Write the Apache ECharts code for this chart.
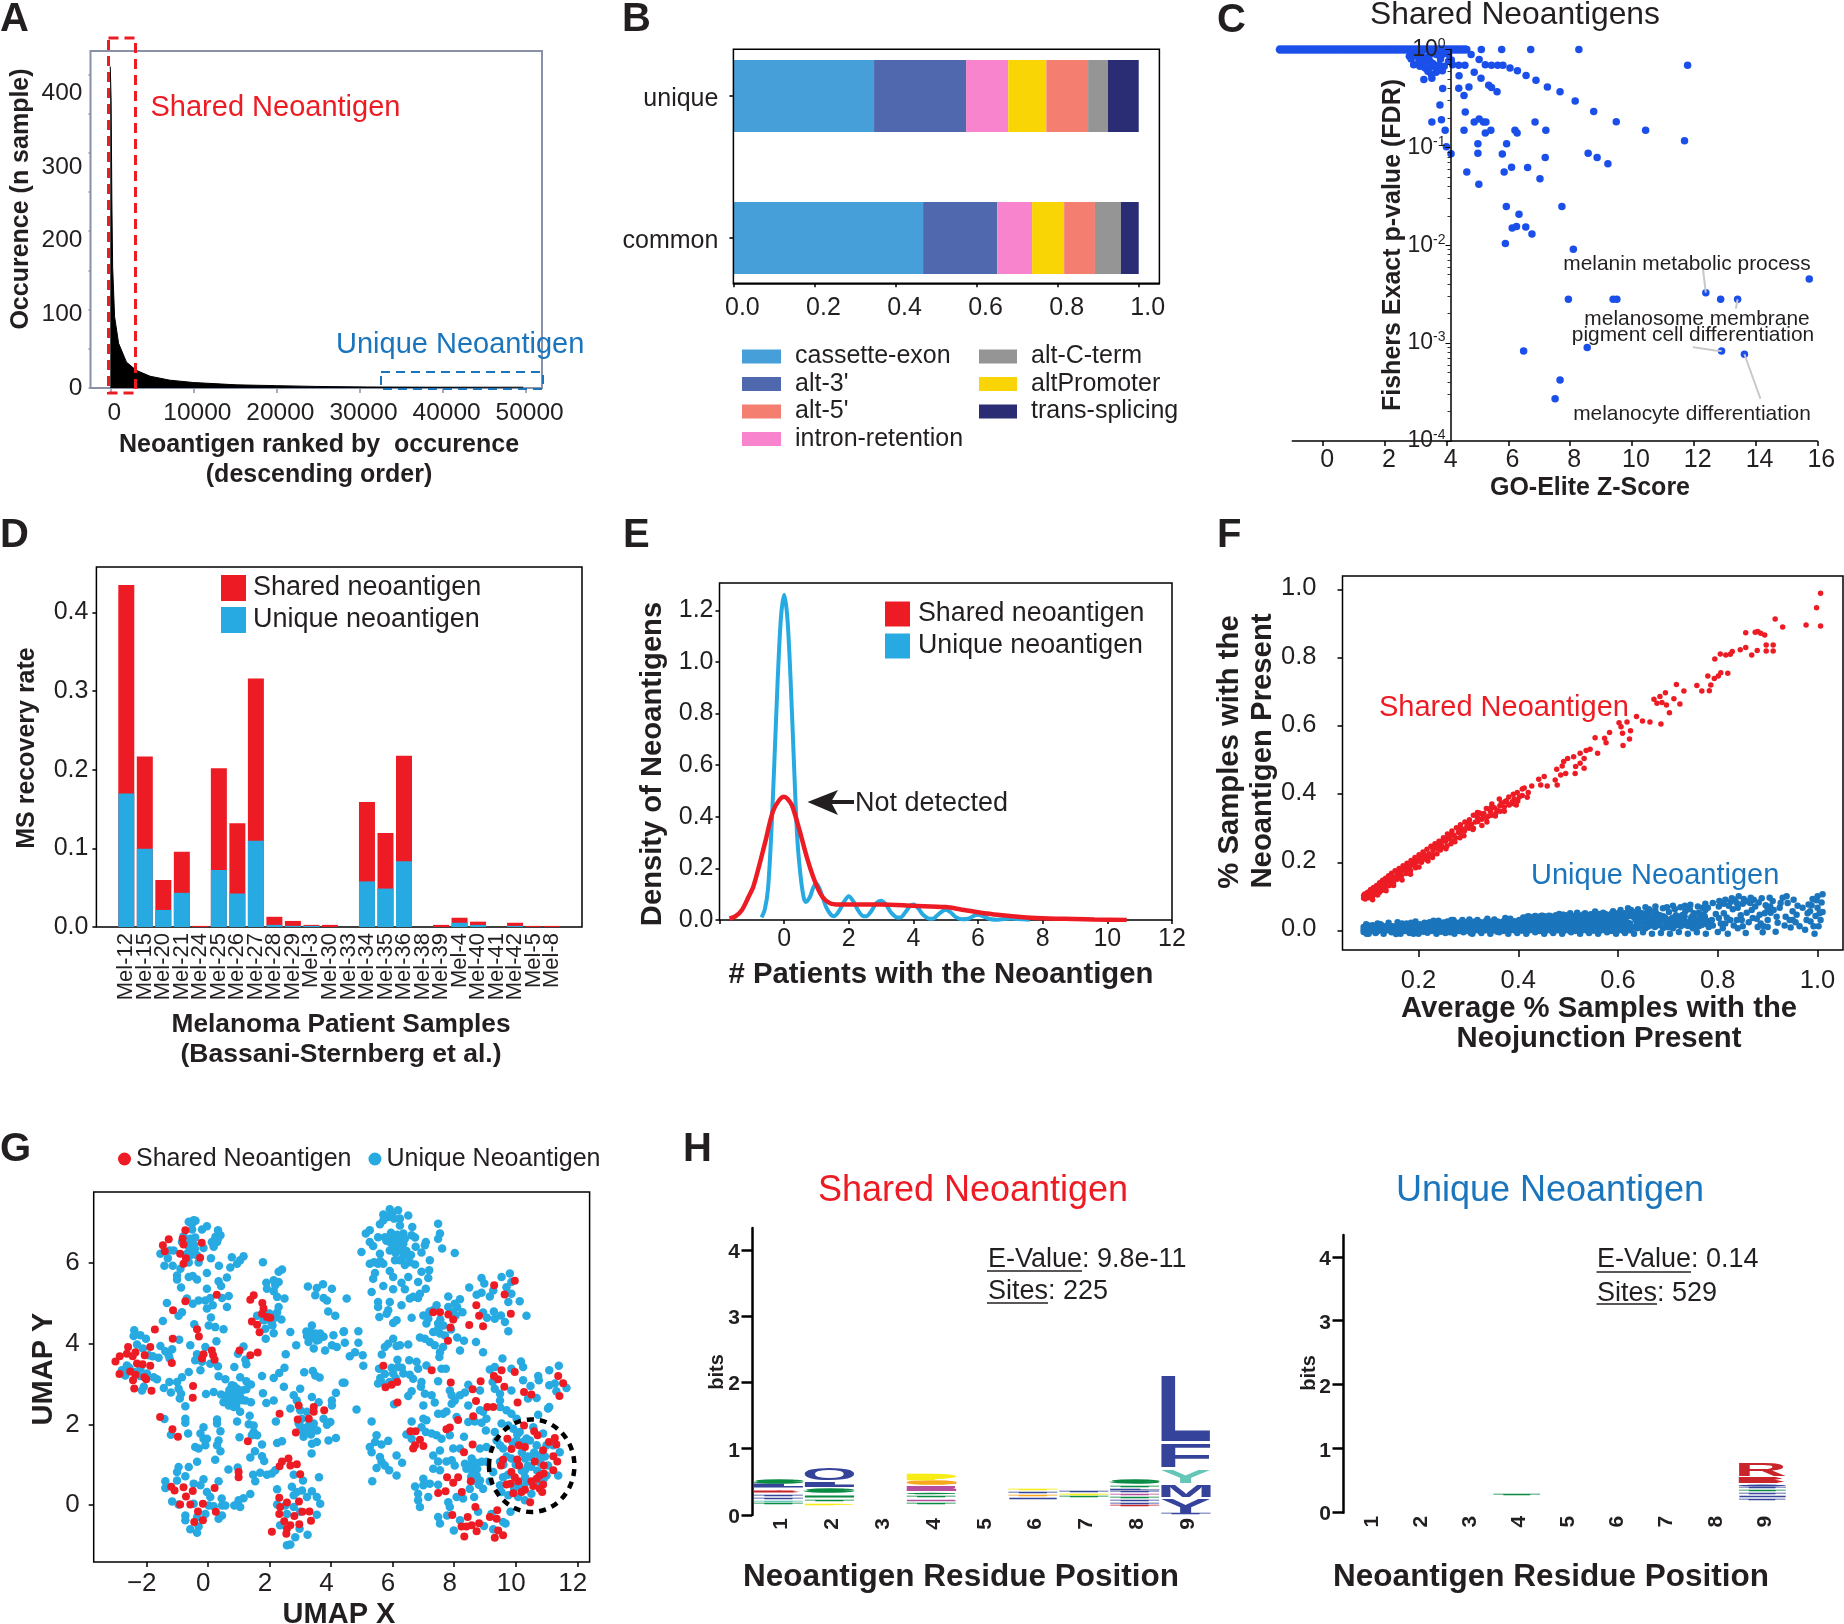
<!DOCTYPE html>
<html><head><meta charset="utf-8">
<style>html,body{margin:0;padding:0;background:#fff}#c{width:1844px;height:1624px}</style>
<script src="https://cdn.jsdelivr.net/npm/echarts@6/dist/echarts.min.js"></script>
</head><body><div id="c"></div>
<script>
// Panel A
const rankCurve=[[0,410],[60,410],[100,367],[190,240],[285,154],[520,91],[1000,57],[1950,33],[3130,22.5],[4800,15],[7170,10],[10000,7],[15250,4],[20000,3],[24750,2],[31000,1.3],[39000,1],[49700,1]];
// Panel B
const bCats=['common','unique'];
const bTypes=['cassette-exon',"alt-3'",'intron-retention','altPromoter',"alt-5'",'alt-C-term','trans-splicing'];
const bColors=['#479FD9','#5068AE','#F884CD','#FAD505','#F47F71','#959595','#2B2D74'];
const bCommon=[.468,.183,.086,.079,.076,.064,.044];
const bUnique=[.347,.227,.104,.094,.103,.049,.076];
// Panel C
const goBandX=[-1.4,-1.3,-1.2,-1.1,-1,-.9,-.8,-.7,-.6,-.5,-.4,-.3,-.2,-.1,0,.1,.2,.3,.4,.5,.6,.7,.8,.9,1,1.1,1.2,1.3,1.4,1.5,1.6,1.7,1.8,1.9,2,2.1,2.2,2.3,2.4,2.5,2.6,2.7,2.8,2.9,3,3.1,3.2,3.3,3.4,3.5,3.6,3.7,3.8,3.9,4,4.1,4.2,4.3,4.4,4.5,4.6];
const goPoints=[[5.12,1],[5.78,1],[6.72,1],[8.28,1],[4.65,1],[4.79,.889],[5.05,.79],[5.25,.70],[5.45,.691],[5.65,.691],[5.82,.691],[6.05,.649],[6.29,.605],[6.57,.542],[6.89,.485],[7.26,.414],[7.67,.371],[8.16,.298],[8.76,.233],[9.49,.183],[10.44,.150],[11.70,.117],[11.80,.691],[2.79,.855],[2.93,.889],[3.06,.855],[3.19,.95],[3.32,.822],[3.46,.889],[3.66,.889],[3.86,.889],[4.06,.889],[2.93,.70],[3.13,.675],[3.30,.649],[3.46,.76],[3.59,.675],[3.72,.624],[3.92,.675],[4.06,.76],[4.19,.70],[4.39,.691],[4.59,.691],[4.89,.586],[4.40,.538],[5.11,.509],[3.26,.493],[3.52,.509],[3.66,.586],[3.86,.605],[3.39,.60],[3.87,.399],[4.39,.402],[4.72,.414],[4.56,.338],[5.36,.431],[5.45,.408],[5.63,.371],[3.78,.271],[4.60,.230],[3.52,.182],[3.83,.192],[3.95,.150],[4.56,.150],[4.89,.182],[5.05,.195],[5.19,.182],[5.27,.182],[5.25,.140],[5.43,.150],[6.21,.150],[6.28,.140],[6.86,.182],[7.21,.150],[3.99,.1016],[4.14,.086],[5.01,.109],[5.94,.109],[5.01,.087],[5.80,.0855],[7.19,.0788],[8.58,.087],[8.87,.0788],[9.22,.0682],[4.65,.0559],[5.86,.0559],[6.10,.0628],[6.62,.0622],[5.04,.042],[7.02,.0478],[5.93,.0249],[7.73,.0249],[6.34,.0207],[6.12,.0150],[6.26,.0155],[6.56,.0154],[6.76,.0130],[5.90,.0104],[8.10,.0091],[15.74,.00453],[12.39,.00328],[12.87,.0028],[13.42,.0028],[7.94,.0028],[9.39,.0028],[9.51,.0028],[6.49,.00083],[8.55,.0009],[12.90,.00083],[13.64,.00077],[7.67,.00042],[7.51,.00027],
[3.2,.8],[3.55,.72],[3.8,.8],[3.1,.77],[3.25,.72],[3.45,.66],[3.5,.56],[3.75,.7],[4.15,.78],[2.85,.8]];
const goLeaders=[[[12.29,.00602],[12.39,.00328]],[[13.36,.00225],[13.42,.0028]],[[11.97,.00091],[12.7,.00084],[12.9,.00083]],[[13.64,.00077],[14.16,.00027]]];
// Panel D
const dCats=['Mel-12','Mel-15','Mel-20','Mel-21','Mel-24','Mel-25','Mel-26','Mel-27','Mel-28','Mel-29','Mel-3','Mel-30','Mel-33','Mel-34','Mel-35','Mel-36','Mel-38','Mel-39','Mel-4','Mel-40','Mel-41','Mel-42','Mel-5','Mel-8'];
const dUnique=[.170,.0996,.0217,.0435,0,.0725,.0426,.1096,.0027,.0014,.0014,0,0,.058,.0489,.0838,0,0,.0054,.0027,0,.0014,0,0];
const dTotal=[.435,.217,.0598,.0956,.0014,.202,.132,.316,.013,.0077,.0027,.0027,0,.159,.1196,.218,0,.0027,.0118,.0068,0,.0054,.0014,.0014];
// Panel E
const eUnique=[[-.7,.01],[-.6,.04],[-.5,.12],[-.4,.33],[-.3,.62],[-.2,.93],[-.1,1.17],[0,1.26],[.1,1.17],[.2,.93],[.3,.62],[.4,.33],[.5,.18],[.6,.09],[.67,.07],[.8,.09],[.9,.125],[1,.14],[1.1,.12],[1.2,.085],[1.3,.05],[1.45,.02],[1.55,.015],[1.7,.035],[1.85,.07],[2,.092],[2.15,.07],[2.3,.035],[2.45,.015],[2.55,.015],[2.7,.035],[2.85,.065],[3,.075],[3.15,.06],[3.3,.03],[3.5,.01],[3.6,.01],[3.75,.03],[3.9,.055],[4,.06],[4.15,.045],[4.3,.02],[4.5,.005],[4.6,.005],[4.8,.025],[5,.04],[5.15,.03],[5.3,.012],[5.5,.003],[5.7,.005],[5.9,.018],[6,.02],[6.2,.012],[6.4,.003],[6.6,.001],[7,.006],[7.2,.004],[7.6,.001]];
const eShared=[[-1.69,.005],[-1.5,.015],[-1.3,.04],[-1.1,.09],[-.95,.13],[-.59,.30],[-.35,.42],[-.15,.465],[0,.478],[.1,.47],[.24,.445],[.47,.35],[.71,.24],[.95,.15],[1.18,.09],[1.42,.065],[1.7,.06],[2.2,.06],[3,.06],[4,.055],[5,.05],[5.5,.04],[6,.03],[6.6,.02],[7.5,.01],[8.2,.006],[9,.004],[9.6,.002],[10.6,0]];
// Panel F
const fSharedPts=[[1.006,.99],[.998,.948],[1.006,.894],[.977,.897],[.915,.915],[.93,.891],[.856,.874],[.875,.876],[.88,.878],[.886,.873],[.894,.868],[.868,.809],[.879,.822],[.856,.831],[.845,.824],[.897,.838],[.911,.838],[.897,.821],[.911,.821],[.829,.819],[.825,.811],[.816,.809],[.805,.812],[.794,.797],[.82,.755],[.806,.757],[.801,.747],[.793,.74],[.78,.747],[.786,.721],[.783,.704],[.768,.703],[.758,.719],[.732,.703],[.717,.722],[.712,.68],[.724,.665],[.703,.639],[.695,.698],[.684,.687],[.672,.679],[.678,.667],[.688,.669],[.697,.662],[.686,.606],[.664,.612],[.649,.615],[.637,.628],[.618,.612],[.602,.61],[.606,.598],[.609,.579],[.625,.586],[.623,.562],[.61,.543],[.583,.581],[.573,.564],[.576,.551],[.554,.566],[.559,.52],[.544,.532],[.536,.528],[.524,.52],[.511,.51],[.499,.505],[.491,.496],[.488,.483],[.477,.473],[.532,.505],[.524,.491],[.515,.481],[.532,.476],[.514,.461],[.495,.461],[.485,.456],[.478,.427],[.474,.442],[.452,.452],[.441,.444],[.458,.424],[.445,.427],[.427,.424],[.42,.405],[.412,.418],[.408,.396],[.402,.392],[.418,.391],[.398,.405],[.392,.386],[.388,.378],[.396,.368],[.381,.392],[.376,.381],[.372,.362],[.366,.374],[.362,.386],[.358,.352],[.352,.36],[.347,.371],[.344,.349],[.34,.335],[.336,.358],[.331,.343],[.327,.326],[.322,.345],[.318,.332],[.314,.318],[.31,.338],[.306,.312],[.302,.325],[.297,.305],[.293,.318],[.288,.298],[.284,.31],[.28,.288],[.276,.301],[.271,.279],[.267,.292],[.263,.268],[.258,.283],[.254,.262],[.25,.272],[.246,.25],[.241,.262],[.237,.241],[.233,.254],[.229,.236],[.225,.247],[.221,.225],[.217,.238],[.213,.219],[.209,.23],[.205,.211],[.201,.222],[.197,.202],[.193,.214],[.189,.196],[.185,.205],[.181,.187],[.177,.197],[.173,.179],[.169,.19],[.165,.172],[.161,.182],[.157,.164],[.153,.175],[.149,.156],[.146,.168],[.143,.15],[.14,.16],[.137,.142],[.134,.153],[.131,.136],[.128,.147],[.125,.128],[.122,.14],[.119,.122],[.116,.132],[.113,.114],[.11,.126],[.107,.11],[.104,.12],[.101,.105],[.098,.112],[.095,.099],[.092,.107],[.09,.094],[.09,.102],[.093,.092],[.1,.096],[.108,.1],[.115,.106],[.12,.112],[.127,.118],[.135,.127],[.142,.132],[.15,.14],[.158,.152],[.166,.16],[.175,.167],[.184,.176],[.194,.184],[.206,.2],[.216,.208],[.228,.214],[.244,.236],[.257,.248],[.27,.262],[.283,.272],
[.1,.112],[.108,.09],[.118,.104],[.126,.134],[.135,.116],[.142,.15],[.15,.132],[.158,.172],[.167,.148],[.175,.186],[.184,.165],[.192,.205],[.201,.186],[.21,.224],[.219,.204],[.228,.243],[.237,.225],[.246,.262],[.255,.24],[.264,.28],[.273,.26],[.282,.296],[.291,.278],[.3,.316],[.309,.296],[.318,.346],[.327,.308],[.336,.33],[.345,.36],[.354,.336],[.363,.366],[.372,.35],[.381,.37],[.39,.4],[.399,.38],[.408,.415],[.105,.098],[.113,.122],[.122,.112],[.131,.124],[.14,.138],[.148,.146],[.157,.15],[.166,.176],[.175,.178],[.184,.19],[.193,.192],[.202,.208],[.211,.21],[.22,.216],[.229,.222],[.238,.25],[.247,.244],[.256,.27],[.265,.254],[.274,.272],[.283,.286],[.292,.292],[.301,.3],[.31,.3],[.319,.32],[.328,.34],[.337,.318],[.346,.338],[.355,.344],[.364,.35],[.373,.378],[.382,.368],[.391,.372]];
const fUniqueCore=[[.095,.003],[.107,.003],[.119,.003],[.131,.003],[.143,.004],[.155,.003],[.167,.004],[.179,.003],[.191,.004],[.203,.003],[.215,.004],[.227,.003],[.239,.005],[.251,.003],[.263,.004],[.275,.003],[.287,.005],[.299,.003],[.311,.004],[.323,.003],[.335,.005],[.347,.003],[.359,.004],[.371,.003],[.383,.005],[.395,.003],[.407,.004],[.419,.003],[.431,.005],[.443,.003],[.455,.004],[.467,.003],[.479,.005],[.491,.003],[.503,.004],[.515,.003],[.527,.005],[.539,.003],[.551,.004],[.563,.003],[.575,.005],[.587,.003],[.599,.004],[.611,.003],[.623,.005],[.25,.018],[.262,.019],[.274,.018],[.286,.02],[.298,.019],[.31,.02],[.322,.019],[.334,.021],[.346,.02],[.358,.021],[.37,.02],[.382,.022],[.394,.021],[.406,.022],[.418,.021],[.43,.023],[.442,.022],[.454,.023],[.466,.022],[.478,.024],[.49,.023],[.502,.024],[.514,.023],[.526,.025],[.538,.024],[.55,.025],[.562,.024],[.574,.026],[.586,.025],[.598,.026],[.61,.025],[.42,.036],[.434,.037],[.448,.038],[.462,.038],[.476,.039],[.49,.04],[.504,.04],[.518,.041],[.532,.042],[.546,.042],[.56,.043],[.574,.043],[.588,.044],[.602,.044],[.616,.045],[.63,.045],[.644,.046],[.658,.046],[.64,.012],[.66,.016],[.68,.02],[.7,.014],[.72,.022],[.74,.018],[.76,.016],[.78,.022],[.65,.03],[.67,.034],[.69,.036],[.71,.032],[.73,.04],[.75,.036],[.77,.04]];
const fUniquePts=[[.09,-.005],[.09,.01],[.095,.018],[.1,-.01],[.102,.004],[.108,.015],[.114,-.008],[.118,.02],[.122,.005],[.13,-.01],[.134,.012],[.14,.022],[.146,-.006],[.152,.008],[.158,.024],[.164,-.01],[.17,.006],[.176,.02],[.182,-.008],[.188,.012],[.194,.026],[.2,-.01],[.206,.006],[.212,.022],[.218,-.007],[.224,.014],[.23,.028],[.236,-.01],[.242,.004],[.248,.02],[.254,-.008],[.26,.012],[.266,.03],[.272,-.01],[.278,.006],[.284,.022],[.29,-.006],[.296,.014],[.302,.032],[.308,-.01],[.314,.004],[.32,.02],[.326,-.008],[.332,.012],[.338,.034],[.344,-.01],[.35,.004],[.356,.022],[.362,-.006],[.368,.014],[.374,.036],[.38,-.01],[.386,.006],[.392,.026],[.398,-.008],[.404,.016],[.41,.038],[.416,-.01],[.422,.004],[.428,.028],[.434,-.006],[.44,.014],[.446,.042],[.452,-.01],[.458,.006],[.464,.03],[.47,-.008],[.476,.018],[.482,.048],[.488,-.01],[.494,.004],[.5,.034],[.506,-.006],[.512,.016],[.518,.052],[.524,-.01],[.53,.006],[.536,.036],[.542,-.008],[.548,.02],[.554,.055],[.56,-.01],[.566,.004],[.572,.034],[.578,-.006],[.584,.018],[.59,.056],[.596,-.01],[.602,.008],[.608,.04],[.614,-.008],[.62,.022],[.626,.06],[.632,-.01],[.638,.006],[.644,.042],[.65,-.006],[.656,.024],[.662,.062],[.668,-.01],[.674,.01],[.68,.046],[.686,-.008],[.692,.026],[.698,.068],[.704,-.01],[.71,.006],[.716,.044],[.722,-.005],[.728,.028],[.734,.072],[.74,-.01],[.746,.012],[.752,.05],[.758,-.006],[.764,.03],[.77,.066],[.776,-.01],[.782,.01],[.788,.03],[.8,-.005],[.806,.02],[.812,.05],[.812,.078],[.82,-.01],[.825,.03],[.83,.062],[.834,.09],[.84,.006],[.846,.044],[.85,.078],[.856,-.008],[.862,.024],[.868,.06],[.872,.09],[.88,.01],[.884,.046],[.89,-.006],[.896,.074],[.9,.03],[.906,.052],[.91,.086],[.916,-.004],[.92,.022],[.924,.066],[.93,.096],[.936,.04],[.94,.08],[.946,.008],[.95,.056],[.956,.024],[.96,.072],[.975,.002],[.98,.05],[.982,.076],[.986,.026],[.99,.092],[.994,-.01],[.996,.042],[1,.066],[1,.1],[1.002,.012],[1.006,.03],[1.008,.082],[1.01,.054],[1.01,.106],[.09,.002],[.1,.014],[.112,.002],[.126,.014],[.143,.006],[.16,.014],[.178,.004],[.196,.016],[.215,.004],[.235,.018],[.255,.004],[.275,.018],[.295,.004],[.315,.02],[.335,.002],[.355,.01],[.375,.02],[.395,.002],[.415,.022],[.435,.004],[.455,.04],[.475,.002],[.495,.044],[.515,.004],[.535,.026],[.555,.002],[.575,.046],[.595,.004],[.615,.05],[.635,.03],[.655,.006],[.675,.056],[.695,.036],[.715,.014],[.735,.056],[.755,.02],[.775,.06],
[.096,-.01],[.105,.008],[.116,-.004],[.124,.018],[.136,0],[.148,.012],[.155,-.011],[.167,.02],[.173,-.002],[.185,.022],[.19,-.01],[.203,.018],[.21,-.004],[.222,.024],[.227,0],[.24,.028],[.245,-.004],[.258,.026],[.263,-.006],[.27,.03],[.282,-.002],[.288,.03],[.3,.02],[.305,-.008],[.318,.03],[.323,0],[.336,.024],[.342,.006],[.352,.032],[.358,-.004],[.37,.026],[.378,.004],[.384,.034],[.39,.012],[.402,.03],[.408,.002],[.42,.036],[.426,.012],[.438,.028],[.444,.002],[.45,.02],[.46,.04],[.466,.012],[.478,.032],[.484,.006],[.49,.046],[.498,.018],[.504,.05],[.51,.03],[.516,.01],[.522,.04],[.528,.018],[.534,.05],[.54,.008],[.546,.036],[.552,.02],[.558,.044],[.564,.012],[.57,.052],[.576,.024],[.582,.006],[.588,.04],[.594,.016],[.6,.05],[.606,.028],[.612,.01],[.618,.04],[.624,.02],[.63,.054],[.636,.012],[.642,.03],[.648,.05],[.654,.006],[.66,.036],[.666,.016],[.672,.056],[.678,.028],[.684,.044],[.69,.006],[.696,.032],[.702,.054],[.708,.018],[.714,.062],[.72,.036],[.726,.012],[.732,.046],[.738,.024],[.744,.062],[.75,.006],[.756,.034],[.762,.052],[.768,.016],[.774,.04],[.78,.066],[.79,.014],[.796,.048],[.802,.07],[.81,.006],[.818,.038],[.826,.084],[.832,.014],[.84,.066],[.848,.03],[.858,.052],[.865,.08],[.878,.034],[.892,.012],[.905,.07],[.95,.03],[.985,.056],
[.605,.06],[.62,.065],[.64,.062],[.655,.068],[.675,.07],[.69,.065],[.71,.072],[.725,.068],[.745,.075],[.76,.07],[.775,.078],[.79,.08],[.803,.086],[.815,.09],[.822,.072],[.828,.094],[.838,.08],[.842,.1],[.852,.092],[.86,.085],[.866,.096],[.875,.07],[.882,.082],[.888,.094],[.894,.05],[.9,.01],[.904,.096],[.912,.06],[.918,.04],[.926,.08],[.934,.014],[.938,.1],[.944,.03],[.952,.09],[.958,.046],[.964,.012],[.97,.066],[.978,.03],[.988,.074],[.992,.012],[.998,.088],[1.004,.05],[.802,.036],[.815,.02],[.838,.03],[.85,.012],[.87,.036],[.886,.02],[.9,.062]];
// Panel G
const umapUnique=[[-.46,7.06],[-.51,6.97],[-.62,7.02],[-.51,6.83],[-.19,6.83],[-.03,6.91],[.33,6.81],[.41,6.69],[.24,6.60],[.13,6.52],[.30,6.52],[.19,6.40],[-.79,6.66],[-.41,6.63],[-.57,6.60],[-.84,6.52],[-1.11,6.31],[-1.24,6.31],[-1.54,6.23],[-1.30,6.12],[-.62,6.40],[-.51,6.31],[-.46,6.23],[-.68,6.23],[-.35,6.19],[-.14,6.37],[-.30,6.01],[-.62,6.01],[.10,6.12],[-1.41,5.93],[-1.14,5.93],[-.89,5.86],[-1.0,5.69],[-1.0,5.59],[-.62,5.65],[-.49,5.68],[-.35,5.59],[-.03,5.75],[.36,5.93],[.78,6.14],[.73,5.89],[.95,5.98],[1.05,6.07],[1.16,6.17],[.62,5.64],[.35,5.55],[.43,5.43],[-.87,5.39],[-.03,5.36],[1.79,6.02],[2.41,5.84],[2.30,5.78],[1.90,5.51],[2.14,5.57],[2.30,5.53],[2.19,5.45],[1.92,5.36],[2.14,5.30],[2.25,5.16],[2.49,5.12],[-1.33,5.01],[-.68,5.12],[-.49,4.99],[-.30,5.07],[-.08,5.07],[.08,5.13],[.46,5.13],[.68,5.18],[-.03,4.87],[.16,4.95],[.62,4.91],[-.84,4.78],[-.95,4.69],[-1.46,4.56],[.10,4.65],[-.44,4.48],[.03,4.45],[.24,4.41],[.51,4.36],[2.30,4.91],[2.25,4.77],[1.60,4.69],[1.81,4.58],[2.08,4.50],[2.39,4.60],[1.87,4.37],[2.14,4.26],[1.88,4.12],[2.68,4.29],[3.25,5.42],[3.54,5.38],[3.74,5.47],[4.03,5.36],[3.49,5.20],[3.76,5.13],[3.87,5.07],[3.91,4.80],[4.14,4.69],[3.38,4.45],[3.33,4.29],[3.22,4.19],[3.44,4.21],[3.65,4.25],[3.76,4.17],[4.08,4.21],[4.41,4.29],[3.54,4.08],[3.44,3.88],[3.81,3.83],[3.27,4.04],[4.03,3.96],[4.19,3.92],[2.87,3.96],[2.53,3.74],[-2.39,4.33],[-2.41,4.19],[-2.19,4.21],[-2.01,4.12],[-2.30,3.98],[-2.11,3.88],[-1.92,3.71],[-1.79,3.69],[-1.60,3.65],[-1.54,3.94],[-1.38,3.81],[-1.16,3.86],[-1.27,3.71],[-1.24,3.63],[-.57,3.96],[-.93,4.10],[.28,4.06],[-.08,3.92],[-.35,3.74],[-.41,3.59],[-.19,3.55],[.08,3.50],[.33,3.44],[-.24,3.34],[-.62,3.30],[-.84,3.17],[1.16,3.93],[.98,3.75],[1.22,3.60],[1.25,3.49],[.86,3.42],[1.76,3.20],[2.14,3.15],[2.32,3.27],[2.49,3.40],[3.13,3.29],[3.41,3.32],[3.49,3.21],[3.63,3.16],[-2.63,3.46],[-2.79,3.34],[-2.68,3.21],[-2.19,3.38],[-1.98,3.26],[-1.76,3.17],[-1.65,3.12],[-2.14,2.84],[-2.08,2.93],[.35,3.19],[.57,3.12],[1.05,3.17],[1.25,3.07],[1.40,2.99],[-1.25,3.05],[-1.0,3.05],[-1.43,2.90],[-1.20,2.79],[-.95,2.88],[-.87,2.76],[-.91,2.64],[-.06,2.75],[.19,2.80],[.43,2.74],[.78,2.97],[.95,2.88],[1.11,2.84],[1.25,2.87],[.62,2.72],[.84,2.72],[1.05,2.68],[.51,2.55],[.68,2.47],[.84,2.43],[1.22,2.59],[1.40,2.55],[1.79,2.77],[1.90,2.53],[2.14,2.59],[2.47,2.93],[3.0,2.88],[4.38,3.03],[4.16,2.78],[2.79,2.72],[2.89,2.59],[3.38,2.68],[3.60,2.55],[4.03,2.59],[4.03,2.47],[-.73,2.45],[1.05,2.31],[1.36,2.21],[2.68,2.39],[3.0,2.35],[3.22,2.31],[2.21,2.07],[.95,2.07],[-1.41,2.13],[-.73,2.14],[-.73,2.04],[.30,2.12],[.30,2.02],[1.33,2.0],[1.49,1.97],[-.14,1.93],[-.24,1.77],[1.49,1.81],[1.60,1.73],[1.43,1.73],[.41,1.83],[-.64,1.77],[-1.20,1.74],[-.14,1.64],[-.03,1.64],[-.08,1.48],[.35,1.60],[.30,1.48],[1.03,1.68],[-.41,1.44],[-.30,1.40],[.41,1.33],[1.76,1.50],[2.25,1.54],[2.41,1.58],[3.06,2.14],[2.95,2.02],[3.22,1.93],[3.44,2.02],[3.76,2.14],[3.98,2.06],[3.87,1.99],[3.11,1.81],[3.44,1.89],[3.11,1.69],[3.38,1.52],[3.54,1.56],[3.92,1.60],[4.16,1.66],[1.53,1.33],[1.38,1.18],[1.76,1.21],[1.83,1.09],[3.37,1.28],[.24,1.12],[-.35,1.07],[-.95,.94],[-.62,.94],[-1.0,.82],[.67,.88],[.97,.93],[-.73,.71],[-1.0,.61],[-1.38,.59],[-1.38,.42],[-.46,.53],[-.24,.49],[-.14,.64],[.35,.59],[1.47,.75],[1.70,.80],[1.92,.75],[2.08,.78],[2.19,.86],[1.54,.59],[2.79,.75],[3.09,.61],[3.61,.69],[-.03,.32],[.08,.20],[.45,.16],[1.38,.27],[2.25,.39],[2.73,.45],[2.89,.32],[3.06,.36],[2.79,.24],[3.38,.34],[3.22,.20],[3.54,.20],[3.65,.03],[-1.16,.09],[-.95,.01],[-.46,.03],[.03,-.01],[.19,-.03],[.46,-.01],[.57,-.01],[1.16,.17],[1.0,.12],[.86,-.01],[1.05,-.05],[2.25,.01],[2.52,-.01],[2.79,-.05],[2.57,-.22],[3.0,-.17],[3.54,-.24],[-.73,-.26],[-.73,-.38],[-.08,-.22],[-.35,-.30],[.46,-.26],[.35,-.34],[2.35,-.50],[-.57,-.60],[-.30,-.53],[-.35,-.69],[2.98,-.59],[3.24,-.74],[2.84,-.80],[2.57,-1.0],[2.68,-.98],
[5.91,7.33],[6.18,7.31],[6.51,7.18],[5.86,7.14],[6.24,7.10],[5.70,7.06],[5.59,6.96],[6.24,6.93],[5.26,6.81],[5.13,6.73],[6.64,6.89],[7.48,6.97],[5.53,6.64],[5.75,6.64],[6.02,6.64],[6.35,6.73],[6.62,6.69],[6.73,6.63],[7.54,6.73],[7.48,6.60],[5.26,6.52],[5.37,6.42],[5.91,6.52],[6.08,6.52],[6.35,6.48],[7.08,6.52],[7.05,6.44],[6.75,6.40],[6.13,6.40],[7.61,6.36],[4.99,6.27],[5.59,6.23],[5.91,6.31],[6.94,6.26],[8.02,6.25],[6.35,6.15],[6.51,6.15],[6.24,6.07],[6.08,6.07],[7.21,6.07],[5.26,5.98],[5.53,5.98],[5.70,5.98],[6.56,6.02],[6.73,5.96],[6.94,5.78],[7.19,5.82],[5.91,5.80],[5.43,5.75],[5.37,5.61],[6.51,5.65],[7.16,5.63],[6.02,5.65],[6.29,5.51],[6.83,5.53],[5.70,5.43],[7.08,5.36],[6.02,5.35],[6.40,5.35],[5.32,5.28],[4.51,5.12],[6.89,5.24],[6.67,5.16],[6.83,5.13],[6.56,5.12],[5.53,5.03],[5.91,5.03],[6.29,4.95],[5.53,4.91],[5.86,4.83],[5.81,4.74],[5.57,4.66],[6.62,4.64],[6.13,4.58],[6.02,4.51],[8.89,5.63],[8.98,5.49],[9.54,5.65],[9.81,5.74],[9.86,5.53],[9.70,5.40],[8.49,5.39],[9.27,5.32],[8.89,5.26],[8.73,5.21],[9.16,5.17],[9.86,5.24],[9.76,5.03],[10.13,5.05],[7.81,5.17],[8.19,5.10],[8.02,4.99],[7.81,4.91],[7.97,4.78],[7.43,4.95],[7.32,4.83],[8.94,4.77],[9.29,4.80],[9.52,4.70],[9.32,4.62],[9.07,4.64],[9.65,4.54],[10.35,4.69],[9.76,4.31],[7.0,4.70],[7.16,4.62],[7.10,4.50],[8.27,4.78],[7.48,4.50],[7.48,4.37],[7.54,4.25],[7.32,4.29],[6.89,4.15],[7.05,4.12],[7.21,4.04],[7.37,3.96],[7.64,3.92],[7.54,3.79],[7.52,3.67],[8.10,4.15],[8.32,4.07],[8.71,4.04],[8.19,3.83],[8.94,3.79],[6.51,3.98],[6.02,4.12],[5.86,4.0],[6.13,3.94],[5.75,3.92],[6.24,3.96],[4.89,4.31],[4.42,4.31],[4.45,4.02],[4.89,4.02],[4.78,3.79],[5.03,3.71],[4.61,3.69],[5.65,3.73],[5.05,3.45],[6.16,3.60],[6.54,3.59],[6.78,3.55],[6.83,3.38],[7.10,3.46],[7.59,3.38],[7.73,3.38],[5.97,3.40],[5.56,3.38],[6.18,3.42],[6.02,3.26],[6.35,3.26],[6.56,3.23],[6.67,3.13],[6.94,3.05],[6.92,2.93],[5.64,3.05],[5.53,3.01],[4.44,3.03],[7.48,3.07],[6.62,2.82],[6.51,2.70],[7.05,2.76],[7.27,2.72],[7.37,2.54],[6.05,2.50],[7.0,2.47],[7.86,2.84],[7.92,2.72],[9.57,3.63],[10.17,3.56],[10.24,3.42],[9.32,3.42],[9.16,3.36],[9.86,3.38],[11.09,3.34],[11.40,3.45],[11.27,3.01],[11.09,2.97],[11.65,2.90],[11.32,2.82],[10.73,3.20],[10.75,3.09],[10.24,3.09],[10.48,2.95],[9.86,2.84],[9.25,3.05],[9.32,2.88],[9.49,2.76],[8.46,2.98],[8.35,2.79],[8.19,2.72],[8.02,2.59],[7.92,2.51],[8.84,2.84],[8.46,2.47],[8.94,2.31],[9.49,2.59],[9.49,2.43],[10.40,2.64],[10.68,2.65],[11.09,2.43],[11.05,2.39],[4.83,2.37],[5.32,2.07],[6.62,2.07],[7.0,2.14],[7.10,2.10],[6.94,1.93],[7.64,2.26],[7.75,2.32],[7.48,2.26],[8.84,2.35],[9.05,2.14],[8.89,2.04],[8.67,2.07],[8.46,2.06],[9.54,2.02],[9.70,2.35],[9.86,2.26],[10.03,2.14],[10.73,2.24],[8.08,2.18],[6.45,1.75],[6.62,1.64],[7.08,1.81],[7.27,1.77],[7.43,1.73],[7.59,1.64],[7.86,1.73],[8.32,1.69],[9.03,1.85],[9.32,1.81],[9.49,1.48],[9.76,1.97],[9.92,1.89],[10.13,1.81],[10.57,1.93],[10.89,1.77],[10.46,1.60],[10.68,1.48],[10.03,1.60],[10.24,1.56],[9.38,1.60],[8.84,1.40],[9.05,1.44],[8.19,1.40],[7.97,1.40],[7.54,1.35],[7.32,1.23],[7.48,1.08],[7.75,1.08],[7.92,1.11],[8.02,.98],[8.35,1.02],[8.40,.90],[8.57,1.15],[8.57,1.02],[8.89,1.07],[9.05,1.07],[9.59,1.40],[9.86,1.15],[10.30,1.15],[10.51,1.19],[10.78,1.23],[11.22,1.48],[11.0,1.48],[11.43,1.31],[11.05,.98],[10.40,.98],[9.27,.82],[9.49,1.07],[9.59,.69],[10.30,.86],[10.30,.69],[10.35,.57],[10.03,.45],[11.0,.73],[11.38,.73],[7.32,.90],[7.54,.86],[7.0,.65],[7.0,.49],[6.73,.46],[7.21,.53],[7.48,.50],[8.62,.90],[8.73,.73],[8.62,.61],[8.84,.61],[8.94,.40],[8.51,.40],[9.16,.59],[9.49,.49],[9.54,.32],[9.76,.24],[10.08,.20],[10.30,.12],[10.51,.28],[10.78,.49],[10.91,.65],[6.83,.28],[6.83,.12],[7.16,.20],[6.89,-.05],[7.81,.07],[7.86,-.05],[8.08,.20],[8.29,.16],[8.65,.20],[9.83,-.17],[7.48,-.30],[7.54,-.46],[7.77,-.26],[8.19,-.38],[8.78,-.17],[8.97,-.52],[9.21,-.22],[9.59,-.42],[9.67,-.46],[7.99,-.63],[9.27,-.60],[5.48,1.73],[5.86,1.59],[5.43,1.56],[5.64,1.50],[5.26,1.44],[5.32,1.31],[5.59,1.19],[5.64,1.07],[5.48,.92],[5.75,.98],[5.89,.86],[6.13,1.23],[6.31,1.05],[6.13,.73],[5.34,.59],
[5.8,6.55],[6,6.45],[6.2,6.55],[6.4,6.6],[6.1,6.25],[6.3,6.3],[5.95,6.75],[6.15,6.7],[6.45,6.3],[6.6,6.2],[5.7,7.2],[5.98,7.2],[6.05,7.1],[5.4,6.02],[5.6,6.05],[6.4,5.95],[-.55,6.5],[-.65,6.45],[-.45,6.45],[-.42,6.35],[-.55,6.2],[-.4,7.05],[-.56,7],[.25,6.65],[.33,6.6],[.17,6.48],[.7,2.85],[.85,2.8],[1,2.78],[.8,2.6],[.95,2.6],[1.1,2.6],[.75,2.5],[.92,2.45],[.6,2.6],[.85,2.95],[2,4.75],[1.95,4.6],[2.2,4.65],[2.1,4.45],[3.5,4.25],[3.6,4.1],[3.35,4.15],[3.2,4.3],[3.3,2],[3.2,1.85],[3.35,1.75],[3,1.95],[3.55,1.85],[-2.4,3.3],[-2.55,3.4],[-2.2,3.2],[-2.7,3.3],[10.2,1.3],[10.4,1.2],[10.6,1.3],[10.5,.95],[10.2,.85],[10.8,1.05],[10.95,1.2],[10.7,.85],[10,1],[9.7,1.2],[9.6,1],[9.75,.75],[9.95,.4],[10.25,.45],[10.05,1.75],[10.35,1.65],[9.9,1.55],[8.6,.8],[8.75,.9],[8.7,1.05],[8.8,.5],[8.55,.7],[7.55,4.6],[7.65,4.45],[7.45,4.3],[7.7,4.2],[7.9,4.35],[8.05,4.7],[8.1,4.9],[7.2,4.8],[5.6,3.15],[5.75,3.25],[5.9,3.05],[6.1,3.15],[6.3,3.4]];
const umapShared=[[-.73,6.81],[-1.27,6.59],[-.82,6.60],[-.79,6.46],[-1.46,6.44],[-.20,6.50],[-1.40,6.29],[-.90,6.23],[-.71,6.12],[-.25,6.13],[-.79,5.98],[.29,5.21],[-.73,5.05],[-1.13,4.83],[1.49,5.20],[1.38,5.09],[1.77,5.01],[1.81,4.87],[1.76,4.74],[1.92,4.66],[2.03,4.64],[1.43,4.55],[1.60,4.47],[1.68,4.28],[-1.72,4.35],[-.35,4.36],[-1.14,4.12],[-.29,4.18],[-2.59,3.92],[-2.35,3.79],[-2.63,3.75],[-2.44,3.69],[-2.86,3.69],[-3.0,3.56],[-1.87,3.92],[-2.05,3.71],[-.14,3.74],[-.19,3.63],[.13,3.83],[.17,3.71],[.22,3.60],[1.03,3.83],[1.38,3.71],[1.62,3.78],[-1.17,3.52],[-2.30,3.51],[-2.12,3.49],[-1.87,3.45],[-2.52,3.31],[-2.35,3.23],[-2.43,3.09],[-2.87,3.25],[-2.06,3.17],[-2.0,3.12],[-2.39,2.89],[-1.83,2.83],[-.48,2.95],[-.49,2.66],[2.95,2.47],[3.44,2.43],[3.44,2.31],[3.78,2.35],[2.33,2.26],[2.92,2.12],[3.28,2.14],[2.86,1.80],[-1.55,2.18],[-1.15,1.88],[-.97,1.69],[1.30,1.58],[2.41,1.08],[2.62,1.15],[2.33,.96],[2.68,.98],[2.89,1.01],[1.0,.82],[1.0,.69],[3.0,.76],[-1.19,.45],[-1.08,.36],[-.79,.44],[-.49,.35],[.22,.42],[-.71,.21],[-.90,.01],[-.57,.01],[-.16,.03],[-.32,-.16],[.26,-.17],[-.44,-.42],[-.16,-.38],[2.32,.18],[2.57,.06],[2.96,.09],[2.35,-.05],[2.32,-.22],[2.81,-.27],[3.07,-.17],[3.30,-.16],[2.48,-.40],[2.68,-.50],[2.97,-.48],[3.35,-.39],[2.57,-.59],[2.08,-.66],[2.55,-.71],
[9.97,5.56],[9.30,5.45],[9.64,5.22],[8.72,4.95],[7.32,4.78],[7.54,4.78],[7.81,4.72],[7.97,4.60],[8.81,4.69],[9.84,4.74],[8.49,4.46],[8.94,4.43],[7.88,4.40],[7.80,4.07],[5.70,3.45],[7.27,3.34],[9.54,3.34],[9.97,3.30],[9.29,3.20],[9.43,3.12],[11.38,3.20],[11.54,3.02],[11.42,2.70],[8.86,3.07],[7.89,3.04],[6.15,3.05],[5.97,2.98],[5.77,2.92],[8.60,2.87],[9.63,2.93],[10.27,2.80],[10.51,2.74],[10.06,2.54],[6.16,2.54],[8.71,2.58],[9.08,2.43],[9.27,2.43],[8.13,2.11],[8.62,2.20],[10.27,1.97],[7.86,1.92],[7.75,1.88],[6.58,1.83],[6.75,1.83],[6.89,1.62],[6.73,1.48],[7.0,1.46],[6.67,1.40],[9.73,1.64],[10.60,1.83],[10.71,1.73],[11.08,1.56],[11.27,1.66],[11.32,1.50],[10.10,1.48],[10.30,1.44],[9.86,1.39],[8.60,1.50],[8.32,1.31],[10.89,1.36],[11.22,1.21],[9.59,1.12],[11.35,1.08],[9.52,.98],[10.05,1.13],[10.11,.98],[10.62,1.08],[10.91,.98],[11.22,.86],[9.86,.82],[9.97,.69],[10.78,.73],[10.51,.59],[10.91,.78],[10.68,.65],[10.08,.59],[10.57,.47],[10.78,.40],[10.89,.51],[9.70,.51],[9.83,.53],[7.77,.69],[8.13,.69],[7.97,.55],[8.54,.59],[7.48,.30],[7.72,.34],[8.25,.32],[9.92,.29],[10.19,.32],[10.30,.38],[10.86,.32],[10.47,.07],[8.69,-.05],[9.40,-.13],[7.94,-.25],[8.44,-.30],[8.81,-.45],[8.24,-.53],[8.40,-.53],[8.57,-.50],[8.73,-.65],[9.16,-.30],[9.38,-.34],[9.43,-.63],[8.33,-.78],[9.32,-.81],[9.59,-.75]];
// Panel H: [position, bits from, bits to, letter, colour]
const NAVY='#35449A',GRN='#0B8B44',RED='#C9252B',YEL='#F8EC17',ORG='#F8A81C',MAG='#B84F9E',TEAL='#63C6B6';
const logoShared=[[1,.165,.183,'T',GRN],[1,.195,.213,'T',TEAL],[1,.24,.258,'T',NAVY],[1,.285,.303,'T',NAVY],[1,.345,.375,'K',RED],[1,.41,.455,'L',NAVY],[1,.47,.53,'S',GRN],
[2,.15,.175,'P',YEL],[2,.21,.228,'T',GRN],[2,.26,.30,'N',GRN],[2,.33,.39,'S',GRN],[2,.425,.5,'L',NAVY],[2,.53,.705,'O',NAVY],
[4,.155,.173,'T',GRN],[4,.205,.223,'E',MAG],[4,.265,.283,'T',GRN],[4,.31,.328,'S',GRN],[4,.36,.43,'E',MAG],[4,.45,.515,'G',ORG],[4,.53,.62,'P',YEL],
[6,.24,.258,'I',NAVY],[6,.29,.308,'T',ORG],[6,.335,.353,'T',NAVY],[6,.365,.39,'T',YEL],
[7,.265,.283,'T',GRN],[7,.30,.325,'T',YEL],[7,.35,.368,'T',NAVY],
[8,.135,.153,'T',RED],[8,.17,.188,'T',NAVY],[8,.205,.223,'T',NAVY],[8,.255,.273,'T',GRN],[8,.295,.313,'T',MAG],[8,.34,.358,'T',NAVY],[8,.368,.39,'L',NAVY],[8,.415,.433,'T',GRN],[8,.475,.525,'S',GRN],
[9,.005,.02,'T',NAVY],[9,.035,.25,'Y',NAVY],[9,.275,.45,'M',NAVY],[9,.48,.68,'Y',TEAL],[9,.715,1.07,'F',NAVY],[9,1.11,2.09,'L',NAVY]];
const logoUnique=[[4,.277,.297,'T',GRN],
[9,.195,.212,'T',NAVY],[9,.25,.265,'I',NAVY],[9,.285,.30,'T',NAVY],[9,.34,.36,'T',GRN],[9,.39,.405,'T',NAVY],[9,.405,.445,'O',NAVY],[9,.46,.545,'K',RED],[9,.575,.77,'R',RED]];

const FF='"Liberation Sans", Arial, sans-serif';
const INK='#231F20',SRED='#ED1C24',SBLUE='#27AAE1',UBLUE='#1B75BC';
const txt=[];
function T(text,x,y,size,o){o=o||{};txt.push({type:'text',silent:true,z:50,x:x,y:o.rot?y:y+2,rotation:o.rot?Math.PI/2:0,style:{text:text,x:0,y:0,font:(o.bold?'bold ':'')+size+'px '+FF,fill:o.color||INK,align:o.align||'center',verticalAlign:'middle'}});}
function L(x1,y1,x2,y2,c,w){txt.push({type:'line',silent:true,z:50,shape:{x1,y1,x2,y2},style:{stroke:c||INK,lineWidth:w||2}});}
function R(x,y,w,h,c,lw,d){txt.push({type:'rect',silent:true,z:50,shape:{x,y,width:w,height:h},style:{fill:'none',stroke:c,lineWidth:lw,lineDash:d||null}});}
// panel letters
[['A',0,18],['B',622,18],['C',1217,19],['D',0,534],['E',623,534],['F',1217,534],['G',0,1148],['H',683,1148]].forEach(a=>T(a[0],a[1],a[2],40,{bold:1,align:'left'}));
// A
T('Shared Neoantigen',150.5,106,29,{align:'left',color:SRED});
T('Unique Neoantigen',336,343,29,{align:'left',color:UBLUE});
T('Occurence (n sample)',21.5,199,25,{bold:1,rot:1});
T('Neoantigen ranked by  occurence',319,443,25,{bold:1});
T('(descending order)',319,473,25,{bold:1});
R(108.5,38,27,355,SRED,3,[10,6]);
R(381,372,162,17,UBLUE,2,[9,6]);
// B
R(733.4,49.3,426,234,'#000',1.5);
// C
T('Shared Neoantigens',1515,13,31.8);
T('Fishers Exact p-value (FDR)',1393,245,25,{bold:1,rot:1});
T('GO-Elite Z-Score',1590,486,25,{bold:1});
T('melanin metabolic process',1687,262,20.9);
T('melanosome membrane',1697,317,20.9);
T('pigment cell differentiation',1693,333,20.9);
T('melanocyte differentiation',1692,412,20.9);
// D
T('MS recovery rate',27,748,25,{bold:1,rot:1});
T('Melanoma Patient Samples',341,1023,26.3,{bold:1});
T('(Bassani-Sternberg et al.)',341,1053,26.5,{bold:1});
// E
T('Density of Neoantigens',652.7,764,29.2,{bold:1,rot:1});
T('# Patients with the Neoantigen',941,973,29.3,{bold:1});
T('Not detected',855,802,27,{align:'left'});
txt.push({type:'polygon',silent:true,z:50,shape:{points:[[807.5,802],[838,790],[831,802],[838,815]]},style:{fill:INK}});
L(830,802,854,802,INK,4);
// F
T('% Samples with the',1230,752,29.3,{bold:1,rot:1});
T('Neoantigen Present',1263,751,29.3,{bold:1,rot:1});
T('Average % Samples with the',1599,1007,29.3,{bold:1});
T('Neojunction Present',1599,1037,29.3,{bold:1});
T('Shared Neoantigen',1379,706,29,{align:'left',color:SRED});
T('Unique Neoantigen',1531,874,29,{align:'left',color:UBLUE});
// G
T('UMAP X',339,1613,29,{bold:1});
T('UMAP Y',43.5,1369,29,{bold:1,rot:1});
txt.push({type:'ellipse',silent:true,z:50,shape:{cx:531.7,cy:1465.7,rx:42.7,ry:46.3},style:{fill:'none',stroke:'#000',lineWidth:4.5,lineDash:[7,6]}});
// H
T('Shared Neoantigen',973,1189,36,{color:SRED});
T('Unique Neoantigen',1550,1189,36,{color:UBLUE});
T('E-Value: 9.8e-11',988,1258,27,{align:'left'});
T('Sites: 225',988,1290,27,{align:'left'});
L(987,1271,1082,1271,INK,1.6);L(987,1303,1048,1303,INK,1.6);
T('E-Value: 0.14',1597,1258,27,{align:'left'});
T('Sites: 529',1597,1292,27,{align:'left'});
L(1596.5,1272,1691,1272,INK,1.6);L(1596.5,1304,1657,1304,INK,1.6);
T('bits',717.5,1372,20,{bold:1,rot:1});
T('bits',1309,1373,20,{bold:1,rot:1});
T('Neoantigen Residue Position',961,1575,31.5,{bold:1});
T('Neoantigen Residue Position',1551,1575,31.5,{bold:1});

function box(l,t,w,h,c,bw){return {left:l,top:t,width:w,height:h,show:true,borderColor:c||'#000',borderWidth:bw||1.5,backgroundColor:'transparent'};}
function free(l,t,w,h){return {left:l,top:t,width:w,height:h,show:false};}
function ax(g,min,max,ticks,o){o=o||{};const col=o.color||'#000';
 return Object.assign({type:'value',gridIndex:g,min,max,scale:true,splitLine:{show:false},
  axisLine:{show:!!o.line,onZero:false,lineStyle:{color:col,width:o.lw||1.5}},
  axisTick:{show:o.tick!==false,customValues:o.tickValues||ticks,length:o.tl||5,lineStyle:{color:col,width:o.tw||1.5}},
  axisLabel:Object.assign({show:o.label!==false,customValues:ticks,showMinLabel:true,showMaxLabel:true,hideOverlap:false,margin:o.margin||8,color:INK,fontFamily:FF,fontSize:o.fs||25,fontWeight:o.bold?'bold':'normal',rotate:o.rotate||0,formatter:o.fmt||undefined,padding:o.pad||0},o.labelExtra||{})},o.extra||{});}
const f1=v=>(+v).toFixed(1);
const plain=v=>String(v);
const dLabel=v=>dCats[v-1];
const positions=[1,2,3,4,5,6,7,8,9];
const dOdd=dCats.map((c,i)=>i+1).filter(v=>v%2==1),dEven=dCats.map((c,i)=>i+1).filter(v=>v%2==0);

const grids=[
 box(90.5,51,451.5,337,'#8A90A8',2),            //0 A
 free(733.4,24.8,426,284.4),                    //1 B
 free(1292.3,49.5,525,391.5),                   //2 C
 box(96.4,567,485.6,360),                       //3 D
 box(719.5,583,452.5,337),                      //4 E
 box(1342.5,576,500.5,374),                     //5 F
 box(93.7,1192,495.9,370),                      //6 G
 free(752,1228,484.7,287),                      //7 H1
 free(1343,1235,468.5,277.7)                    //8 H2
];
const xAxes=[
 ax(0,-2381,51970,[0,10000,20000,30000,40000,50000],{color:'#8A90A8',tl:5,margin:13,fs:24.5,fmt:plain,pad:[0,0,0,8]}),
 ax(1,0,1.051,[0,.2,.4,.6,.8,1],{line:true,tl:4,margin:12,fs:25,fmt:f1,pad:[0,0,0,18],extra:{offset:-25.9}}),
 ax(2,-1,16,[0,2,4,6,8,10,12,14,16],{line:true,tl:5,margin:7,fs:25,pad:[0,0,0,8]}),
 ax(3,-.615,25.615,dOdd,{tick:false,rotate:90,margin:6,fs:22,fmt:dLabel,extra:{position:'bottom'}}),
 ax(4,-2,12,[-2,0,2,4,6,8,10,12],{tl:4,margin:7,fs:25,fmt:v=>v==-2?'':v}),
 ax(5,.0476,1.051,[.2,.4,.6,.8,1],{tl:7,margin:18,fs:25.5,fmt:f1}),
 ax(6,-3.707,12.4,[-2,0,2,4,6,8,10,12],{tl:5,margin:9,fs:26,pad:[0,9,0,0],fmt:v=>String(v).replace('-','\u2212')}),
 ax(7,.477,10,positions,{tick:false,label:false,extra:{position:'bottom'}}),
 ax(8,.458,10,positions,{tick:false,label:false,extra:{position:'bottom'}}),
 ax(7,.427,9.95,positions,{tick:false,rotate:90,bold:1,fs:21,margin:3,extra:{position:'bottom'}}),
 ax(8,.408,9.95,positions,{tick:false,rotate:90,bold:1,fs:21,margin:3,extra:{position:'bottom'}}),
 ax(3,-.615,25.615,dEven,{tick:false,rotate:90,margin:6,fs:22,fmt:dLabel,extra:{position:'bottom'}})
];
const shiftDown=s=>({verticalAlign:'top',lineHeight:2*s});
const shiftUp=s=>({verticalAlign:'bottom',lineHeight:2*s});
const yAxes=[
 ax(0,0,429.8,[0,50,100,150,200,250,300,350,400],{color:'#8A90A8',label:false,tl:2,extra:{position:'left'}}),                 //0 A ticks
 ax(0,-6.8,450.8,[0,100,200,300,400],{tick:false,margin:8,fs:24.5,labelExtra:shiftDown(5),extra:{position:'left'}}),           //1 A labels
 {type:'category',gridIndex:1,data:bCats,axisLine:{show:false},axisTick:{show:true,length:4,alignWithLabel:true,lineStyle:{color:'#000',width:1.5}},axisLabel:Object.assign({margin:15,color:INK,fontFamily:FF,fontSize:25},shiftDown(3.5)),splitLine:{show:false}}, //2 B
 {type:'log',gridIndex:2,min:1e-4,max:1,logBase:10,offset:-158.2,z:10,splitLine:{show:false},
  axisLine:{show:true,onZero:false,lineStyle:{color:'#000',width:1.5}},axisTick:{length:5,lineStyle:{color:'#000',width:1}},
  minorTick:{show:true,splitNumber:9,length:3,lineStyle:{color:'#000',width:.8}},
  axisLabel:{margin:5,color:INK,fontFamily:FF,formatter:v=>'{b|10}{s|'+Math.round(Math.log10(v))+'}',
   rich:{b:{fontSize:23,fontFamily:FF,color:INK,lineHeight:25},s:{fontSize:14,fontFamily:FF,color:INK,verticalAlign:'top',lineHeight:25}}}}, //3 C
 ax(3,0,.458,[0,.1,.2,.3,.4],{tl:4,margin:8,fs:25,fmt:f1}),      //4 D
 ax(4,0,1.306,[0,.2,.4,.6,.8,1,1.2],{tl:4,margin:6,fs:25,fmt:f1}), //5 E
 ax(5,-.0578,1.041,[0,.2,.4,.6,.8,1],{tl:5,margin:26,fs:25.5,fmt:f1,labelExtra:shiftUp(1.5)}), //6 F
 ax(6,-1.413,7.76,[0,2,4,6],{tl:5,margin:14,fs:26}),             //7 G
 ax(7,0,4.33,[0,1,2,3,4],{line:true,lw:2.5,tl:10.5,tw:2.5,bold:1,fs:21,margin:12,labelExtra:shiftDown(2)}), //8 H1
 ax(8,0,4.34,[0,1,2,3,4],{line:true,lw:2.5,tl:10.5,tw:2.5,bold:1,fs:21,margin:12,labelExtra:shiftDown(2)})  //9 H2
];

// glyph measuring for stretched sequence-logo letters
const mctx=document.createElement('canvas').getContext('2d');
const glyphCache={};
function glyph(ch){if(glyphCache[ch])return glyphCache[ch];mctx.font='bold 100px '+FF;mctx.textBaseline='middle';mctx.textAlign='left';const m=mctx.measureText(ch);
 return glyphCache[ch]={l:m.actualBoundingBoxLeft,r:m.actualBoundingBoxRight,a:m.actualBoundingBoxAscent,d:m.actualBoundingBoxDescent};}
function logoSeries(rows,xi,yi,frac){return {type:'custom',xAxisIndex:xi,yAxisIndex:yi,clip:false,silent:true,
 data:rows.map(r=>[r[0],r[1],r[2]]),
 renderItem:(p,api)=>{const r=rows[p.dataIndex];const top=api.coord([r[0],r[2]]),bot=api.coord([r[0],r[1]]);
  const w=api.size([1,0])[0]*frac,h=bot[1]-top[1],x0=top[0]-w/2,g=glyph(r[3]);
  const thin=h<6,pad=thin?22:0,gw=g.l+g.r+2*pad,gh=g.a+g.d+2*pad;
  const sx=w/gw,sy=h/gh;
  const style={text:r[3],x:0,y:0,font:'bold 100px '+FF,fill:r[4],align:'left',verticalAlign:'middle'};
  if(thin){style.stroke=r[4];style.lineWidth=pad*2;}
  return {type:'text',x:x0+(g.l+pad)*sx,y:top[1]+(g.a+pad)*sy,scaleX:sx,scaleY:sy,style};
 }};}

const series=[];
series.push({type:'line',name:'occurrence',xAxisIndex:0,yAxisIndex:0,data:rankCurve,showSymbol:false,silent:true,clip:false,lineStyle:{color:'#000',width:1},areaStyle:{color:'#000',opacity:1}});
bTypes.forEach((n,i)=>series.push({type:'bar',name:n,stack:'b',xAxisIndex:1,yAxisIndex:2,barWidth:72,silent:true,itemStyle:{color:bColors[i]},data:[bCommon[i],bUnique[i]]}));
series.push({type:'scatter',name:'GO band',xAxisIndex:2,yAxisIndex:3,clip:false,silent:true,symbolSize:8.5,itemStyle:{color:'#1B4FEA',opacity:1},data:goBandX.map(x=>[x,1])});
series.push({type:'scatter',name:'GO terms',xAxisIndex:2,yAxisIndex:3,clip:false,silent:true,symbolSize:7.5,itemStyle:{color:'#1B4FEA',opacity:1},data:goPoints});
goLeaders.forEach((d,i)=>series.push({type:'line',name:'leader'+i,xAxisIndex:2,yAxisIndex:3,clip:false,silent:true,showSymbol:false,lineStyle:{color:'#C8C8C8',width:2},data:d}));
series.push({type:'bar',name:'Shared neoantigen',xAxisIndex:3,yAxisIndex:4,barWidth:16,barGap:'-100%',silent:true,itemStyle:{color:SRED},data:dTotal.map((v,i)=>[i+1,v])});
series.push({type:'bar',name:'Unique neoantigen',xAxisIndex:3,yAxisIndex:4,barWidth:16,barGap:'-100%',silent:true,itemStyle:{color:SBLUE},data:dUnique.map((v,i)=>[i+1,v])});
series.push({type:'line',name:'Unique neoantigen',xAxisIndex:4,yAxisIndex:5,smooth:.3,showSymbol:false,silent:true,lineStyle:{color:SBLUE,width:4},itemStyle:{color:SBLUE},data:eUnique});
series.push({type:'line',name:'Shared neoantigen',xAxisIndex:4,yAxisIndex:5,smooth:.3,showSymbol:false,silent:true,lineStyle:{color:SRED,width:4.5},itemStyle:{color:SRED},data:eShared});
series.push({type:'scatter',name:'F unique core',xAxisIndex:5,yAxisIndex:6,silent:true,symbolSize:10,itemStyle:{color:UBLUE,opacity:1},data:fUniqueCore});
series.push({type:'scatter',name:'F unique',xAxisIndex:5,yAxisIndex:6,silent:true,symbolSize:6.5,itemStyle:{color:UBLUE,opacity:1},data:fUniquePts});
series.push({type:'scatter',name:'F shared',xAxisIndex:5,yAxisIndex:6,silent:true,symbolSize:5.5,itemStyle:{color:SRED,opacity:1},data:fSharedPts});
series.push({type:'scatter',name:'Unique Neoantigen',xAxisIndex:6,yAxisIndex:7,silent:true,symbolSize:8.5,itemStyle:{color:SBLUE,opacity:1},data:umapUnique});
series.push({type:'scatter',name:'Shared Neoantigen',xAxisIndex:6,yAxisIndex:7,silent:true,symbolSize:8,itemStyle:{color:SRED,opacity:1},data:umapShared});
series.push(logoSeries(logoShared,7,8,.98));
series.push(logoSeries(logoUnique,8,9,.97));

function lg(data,left,top,w,h,fs,lh,gap,pad,orient,icon){return {data,left,top,orient:orient||'vertical',icon:icon||'rect',itemWidth:w,itemHeight:h,itemGap:gap,padding:0,selectedMode:false,textStyle:{fontFamily:FF,fontSize:fs,lineHeight:lh,color:INK,padding:[0,0,0,pad]}};}
const option={animation:false,backgroundColor:'#fff',textStyle:{fontFamily:FF},
 grid:grids,xAxis:xAxes,yAxis:yAxes,series,graphic:{elements:txt},
 legend:[
  lg(['cassette-exon',"alt-3'","alt-5'",'intron-retention'],742,344,39,14,25,24,2.5,9),
  lg(['alt-C-term','altPromoter','trans-splicing'],979,344,38,14,25,24,2.5,9),
  lg(['Shared neoantigen','Unique neoantigen'],221,572,25,26,27,32,0,2),
  lg(['Shared neoantigen','Unique neoantigen'],885,598,25,25,26.8,32,0,3),
  lg(['Shared Neoantigen','Unique Neoantigen'],118,1145,13,14,25,28,17,0,'horizontal','circle')
 ]};
const chart=echarts.init(document.getElementById('c'),null,{renderer:'canvas'});
chart.setOption(option);
</script></body></html>
